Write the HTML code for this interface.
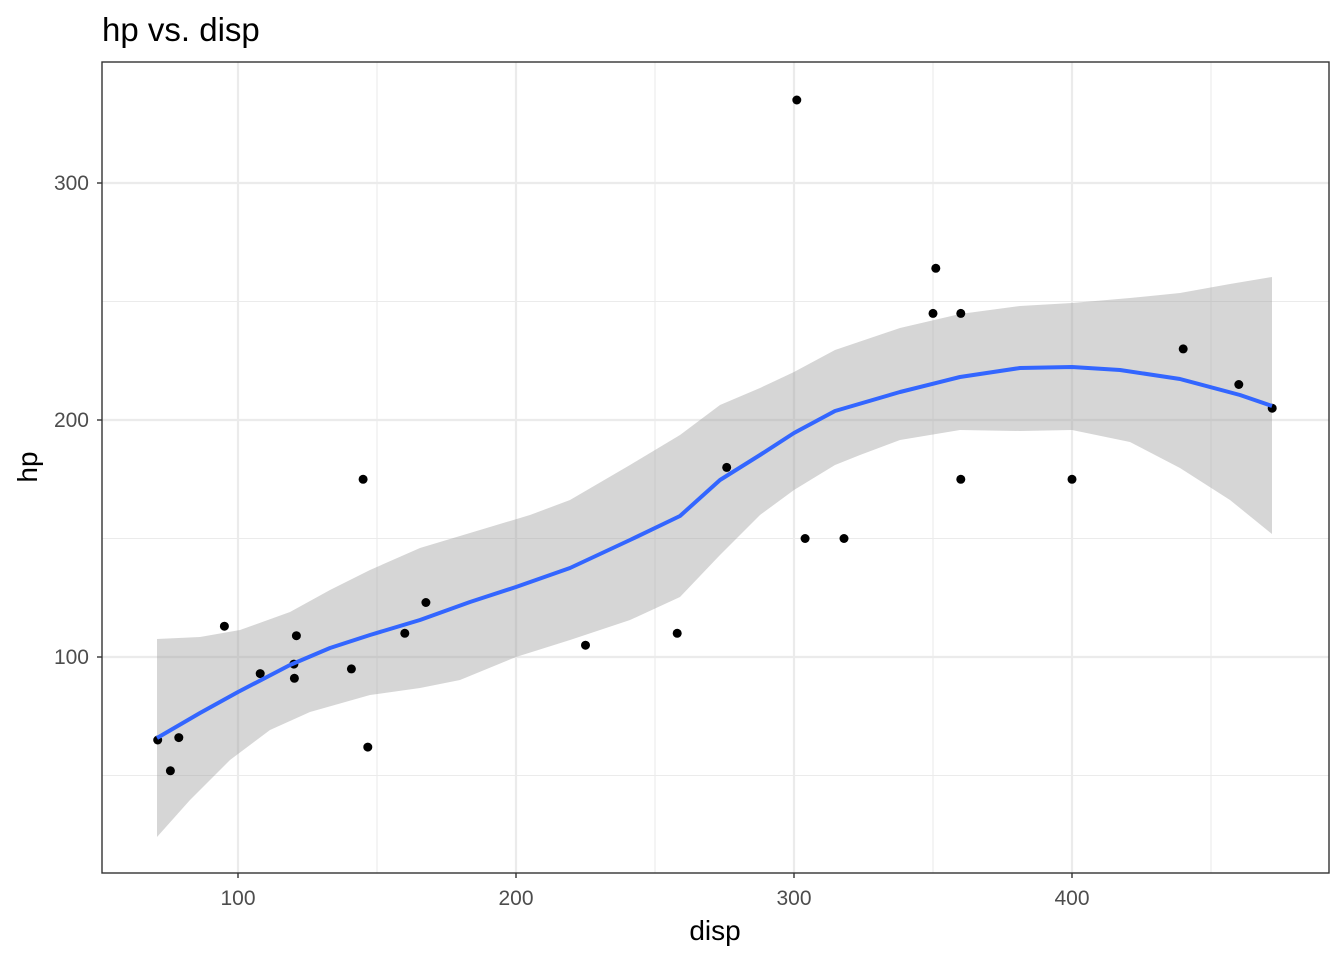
<!DOCTYPE html>
<html><head><style>body{margin:0;background:#fff}</style></head><body>
<svg width="1344" height="960" xmlns="http://www.w3.org/2000/svg" font-family="Liberation Sans, sans-serif">
<rect width="1344" height="960" fill="#fff"/>
<g stroke="#ebebeb" stroke-width="1.1">
<line x1="102" x2="1329" y1="301.5" y2="301.5"/><line x1="102" x2="1329" y1="538.5" y2="538.5"/><line x1="102" x2="1329" y1="775.5" y2="775.5"/>
<line x1="377" x2="377" y1="62" y2="873"/><line x1="655" x2="655" y1="62" y2="873"/><line x1="933" x2="933" y1="62" y2="873"/><line x1="1211" x2="1211" y1="62" y2="873"/>
</g>
<g stroke="#ebebeb" stroke-width="2.2">
<line x1="102" x2="1329" y1="183" y2="183"/><line x1="102" x2="1329" y1="420" y2="420"/><line x1="102" x2="1329" y1="657" y2="657"/>
<line x1="238" x2="238" y1="62" y2="873"/><line x1="516" x2="516" y1="62" y2="873"/><line x1="794" x2="794" y1="62" y2="873"/><line x1="1072" x2="1072" y1="62" y2="873"/>
</g>
<path fill="#999" fill-opacity="0.4" d="M157,639 L200,637 L240,630 L290,612 L330,590 L370,570 L420,548 L470,533 L530,515 L570,500 L630,465 L680,435 L720,405 L760,388 L794,372 L835,350 L900,328 L960,314 L1020,306 L1072,303 L1130,298 L1180,293 L1230,284 L1272,277 L1272,534 L1230,500 L1180,468 L1130,442 L1072,430 L1020,431 L960,430 L900,440 L860,455 L835,465 L794,490 L760,515 L720,555 L680,597 L630,620 L570,640 L516,657 L460,680 L420,688 L370,695 L310,712 L270,730 L230,760 L190,800 L157,837 Z"/>
<g fill="#000">
<circle cx="404.8" cy="633.3" r="4.5"/><circle cx="260.2" cy="673.6" r="4.5"/><circle cx="677.2" cy="633.3" r="4.5"/><circle cx="960.8" cy="479.3" r="4.5"/><circle cx="585.5" cy="645.2" r="4.5"/><circle cx="960.8" cy="313.4" r="4.5"/><circle cx="367.8" cy="747.1" r="4.5"/><circle cx="351.4" cy="668.9" r="4.5"/><circle cx="425.9" cy="602.5" r="4.5"/><circle cx="726.7" cy="467.4" r="4.5"/><circle cx="1272.2" cy="408.2" r="4.5"/><circle cx="1238.8" cy="384.5" r="4.5"/><circle cx="1183.2" cy="348.9" r="4.5"/><circle cx="178.8" cy="737.6" r="4.5"/><circle cx="170.4" cy="770.8" r="4.5"/><circle cx="157.7" cy="740" r="4.5"/><circle cx="293.9" cy="664.1" r="4.5"/><circle cx="844" cy="538.5" r="4.5"/><circle cx="805.1" cy="538.5" r="4.5"/><circle cx="933" cy="313.4" r="4.5"/><circle cx="1072" cy="479.3" r="4.5"/><circle cx="294.4" cy="678.3" r="4.5"/><circle cx="224.4" cy="626.2" r="4.5"/><circle cx="935.8" cy="268.3" r="4.5"/><circle cx="363.1" cy="479.3" r="4.5"/><circle cx="796.8" cy="100" r="4.5"/><circle cx="296.4" cy="635.7" r="4.5"/>
</g>
<polyline fill="none" stroke="#3366ff" stroke-width="4" stroke-linejoin="round" points="157,738 200,713 238,692 290,665 330,648 370,635 420,620 470,602 516,587 570,568 630,540 680,516 720,480 760,455 794,433 835,411 900,392 960,377 1020,368 1072,367 1120,370 1180,379 1240,395 1272,406"/>
<rect x="102" y="62" width="1227" height="811" fill="none" stroke="#333" stroke-width="1.4"/>
<g stroke="#333" stroke-width="1.4">
<line x1="97" x2="102" y1="183" y2="183"/><line x1="97" x2="102" y1="420" y2="420"/><line x1="97" x2="102" y1="657" y2="657"/>
<line x1="238" x2="238" y1="873" y2="878"/><line x1="516" x2="516" y1="873" y2="878"/><line x1="794" x2="794" y1="873" y2="878"/><line x1="1072" x2="1072" y1="873" y2="878"/>
</g>
<g fill="#4d4d4d" font-size="21">
<text x="89" y="190" text-anchor="end">300</text><text x="89" y="427" text-anchor="end">200</text><text x="89" y="664" text-anchor="end">100</text>
<text x="238" y="905" text-anchor="middle">100</text><text x="516" y="905" text-anchor="middle">200</text><text x="794" y="905" text-anchor="middle">300</text><text x="1072" y="905" text-anchor="middle">400</text>
</g>
<text x="715" y="940" text-anchor="middle" font-size="28">disp</text>
<text transform="translate(37,467) rotate(-90)" text-anchor="middle" font-size="28">hp</text>
<text x="102" y="41" font-size="33">hp vs. disp</text>
</svg>
</body></html>
